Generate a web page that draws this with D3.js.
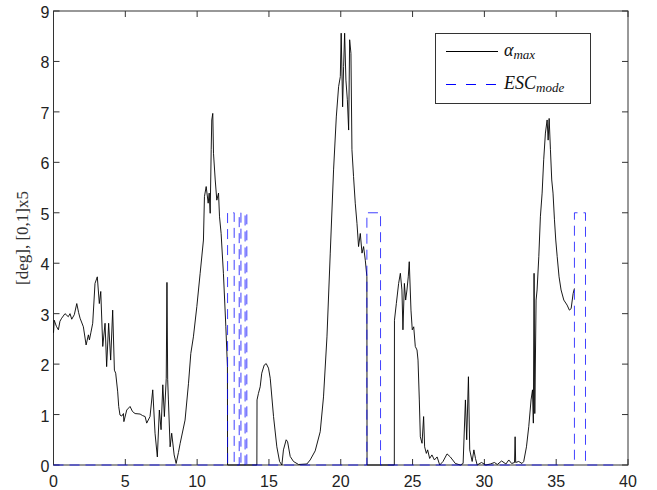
<!DOCTYPE html>
<html>
<head>
<meta charset="utf-8">
<script src="https://cdn.jsdelivr.net/npm/d3@7"></script>
<style>
  body { margin: 0; background: #fff; }
  svg { display: block; }
</style>
</head>
<body>
<div id="chart"></div>
<script>
// alpha_max trace, [time, deg]
const alphaMax = [
  [0.0, 2.62], [0.05, 2.87], [0.2, 2.75], [0.34, 2.68], [0.45, 2.85], [0.57, 2.91], [0.8, 3.0],
  [1.03, 2.94], [1.15, 3.0], [1.27, 2.89], [1.45, 2.98], [1.62, 3.2], [1.75, 3.02], [1.85, 2.91],
  [2.08, 2.74], [2.27, 2.38], [2.43, 2.58], [2.5, 2.48], [2.6, 2.62], [2.73, 2.81], [2.89, 3.6],
  [3.05, 3.73], [3.19, 3.2], [3.29, 3.44], [3.43, 2.35], [3.59, 2.81], [3.7, 1.95], [3.84, 2.81],
  [3.98, 2.08], [4.12, 3.07], [4.24, 1.88], [4.33, 1.82], [4.47, 1.45], [4.54, 1.16], [4.63, 0.99],
  [4.75, 0.97], [4.87, 1.02], [4.9, 0.86], [5.1, 1.09], [5.33, 1.16], [5.5, 1.06], [5.68, 1.02],
  [6.03, 1.01], [6.2, 0.98], [6.38, 0.96], [6.49, 0.83], [6.72, 0.96], [6.91, 1.49], [7.07, 0.63],
  [7.23, 0.16], [7.37, 1.09], [7.49, 0.7], [7.61, 1.59], [7.72, 0.96], [7.85, 1.72], [7.9, 3.62],
  [7.95, 1.7], [8.0, 1.29], [8.12, 0.36], [8.23, 0.63], [8.4, 0.2], [8.54, 0.03], [8.7, 0.25],
  [8.82, 0.43], [9.16, 0.89], [9.4, 1.62], [9.56, 2.21], [9.74, 2.54], [9.98, 3.14], [10.21, 3.8],
  [10.44, 4.46], [10.51, 5.32], [10.63, 5.52], [10.77, 5.19], [10.84, 5.39], [10.91, 4.99],
  [10.98, 6.25], [11.02, 6.84], [11.09, 6.97], [11.14, 6.18], [11.26, 5.65], [11.37, 5.25],
  [11.49, 5.39], [11.56, 4.92], [11.67, 4.59], [11.83, 3.8], [12.0, 2.74], [12.11, 1.95],
  [12.12, 0], [14.16, 0], [14.17, 1.29], [14.27, 1.42], [14.39, 1.55], [14.5, 1.82], [14.67, 1.98],
  [14.81, 2.01], [14.97, 1.92], [15.09, 1.72], [15.32, 0.96], [15.55, 0.36], [15.74, 0.07],
  [15.9, 0.0], [16.01, 0.3], [16.2, 0.5], [16.3, 0.46], [16.48, 0.17], [16.71, 0.07], [17.06, 0.01],
  [17.64, 0.02], [17.87, 0.1], [18.22, 0.28], [18.57, 0.66], [18.8, 1.35], [19.04, 2.54],
  [19.27, 4.2], [19.5, 5.85], [19.69, 6.9], [19.85, 7.5], [19.97, 7.7], [20.03, 8.56], [20.13, 7.1],
  [20.2, 7.9], [20.27, 8.56], [20.36, 7.63], [20.46, 7.24], [20.55, 6.64], [20.62, 8.43],
  [20.71, 8.16], [20.78, 6.25], [20.89, 5.72], [21.01, 5.19], [21.13, 4.79], [21.24, 4.33],
  [21.36, 4.59], [21.48, 4.2], [21.59, 4.33], [21.71, 4.06], [21.82, 3.73], [21.83, 0],
  [23.73, 0], [23.74, 2.87], [23.87, 3.2], [24.03, 3.6], [24.15, 3.8], [24.26, 3.47], [24.33, 2.68],
  [24.43, 3.6], [24.52, 3.27], [24.61, 3.47], [24.7, 3.73], [24.77, 4.03], [24.89, 3.07],
  [24.98, 2.68], [25.08, 2.74], [25.19, 2.35], [25.31, 2.28], [25.38, 2.08], [25.47, 1.29],
  [25.54, 0.56], [25.66, 0.43], [25.77, 0.96], [25.84, 0.36], [25.96, 0.23], [26.05, 0.3],
  [26.19, 0.13], [26.35, 0.2], [26.52, 0.1], [26.71, 0.16], [26.89, 0.0], [27.12, 0.07],
  [27.4, 0.22], [27.63, 0.16], [27.98, 0.03], [28.33, 0.0], [28.52, 0.03], [28.68, 1.29],
  [28.77, 0.5], [28.89, 1.75], [28.98, 0.3], [29.15, 0.07], [29.27, 0.3], [29.38, 0.13],
  [29.5, 0.0], [29.8, 0.05], [30.1, 0.0], [30.42, 0.02], [30.7, 0.05], [30.9, 0.01], [31.2, 0.08],
  [31.5, 0.02], [31.7, 0.1], [31.9, 0.03], [32.1, 0.05], [32.14, 0.56], [32.18, 0.05], [32.39, 0.07],
  [32.62, 0.03], [32.74, 0.07], [32.93, 0.36], [33.09, 0.76], [33.25, 1.29], [33.35, 1.49],
  [33.41, 0.83], [33.46, 3.8], [33.51, 1.02], [33.6, 3.27], [33.67, 3.47], [33.79, 4.13],
  [33.9, 4.92], [34.02, 5.39], [34.13, 6.05], [34.25, 6.58], [34.37, 6.84], [34.44, 6.44],
  [34.51, 6.87], [34.6, 6.25], [34.69, 5.65], [34.78, 5.39], [34.88, 4.86], [34.97, 4.46],
  [35.07, 4.13], [35.2, 3.73], [35.34, 3.47], [35.53, 3.27], [35.76, 3.17], [35.92, 3.07],
  [36.04, 3.1], [36.18, 3.4], [36.27, 3.5]
]

// ESC mode flag (scaled x5), step vertices
const escMode = [
  [0, 0], [12.12, 0], [12.12, 5], [12.58, 5], [12.58, 0], [12.93, 0], [12.93, 5], [13.05, 5],
  [13.05, 0], [13.34, 0], [13.34, 5], [13.46, 5], [13.46, 0], [21.82, 0], [21.82, 5], [22.77, 5],
  [22.77, 0], [36.27, 0], [36.27, 5], [37.04, 5], [37.04, 0], [39.4, 0]
]

const xTicks = [0, 5, 10, 15, 20, 25, 30, 35, 40]
const yTicks = [0, 1, 2, 3, 4, 5, 6, 7, 8, 9]
const yLabel = "[deg], [0,1]x5"

const width = 657, height = 490
const margin = { top: 11, right: 29, bottom: 25, left: 53.5 }
const x = d3.scaleLinear().domain([0, 40]).range([margin.left, width - margin.right])
const y = d3.scaleLinear().domain([0, 9]).range([height - margin.bottom, margin.top])

const svg = d3.select("#chart").append("svg")
  .attr("width", width)
  .attr("height", height)

svg.append("rect")
  .attr("width", width).attr("height", height).attr("fill", "#fff")

const tickLen = 6
const axisColor = "#333"

// frame
svg.append("rect")
  .attr("x", x(0)).attr("y", y(9))
  .attr("width", x(40) - x(0)).attr("height", y(0) - y(9))
  .attr("fill", "none").attr("stroke", axisColor).attr("stroke-width", 1)

// inward ticks on all four sides
const g = svg.append("g").attr("stroke", axisColor).attr("stroke-width", 1)
xTicks.forEach(t => {
  g.append("line").attr("x1", x(t)).attr("x2", x(t)).attr("y1", y(0)).attr("y2", y(0) - tickLen)
  g.append("line").attr("x1", x(t)).attr("x2", x(t)).attr("y1", y(9)).attr("y2", y(9) + tickLen)
})
yTicks.forEach(t => {
  g.append("line").attr("x1", x(0)).attr("x2", x(0) + tickLen).attr("y1", y(t)).attr("y2", y(t))
  g.append("line").attr("x1", x(40)).attr("x2", x(40) - tickLen).attr("y1", y(t)).attr("y2", y(t))
})

svg.append("g").selectAll("text")
  .data(xTicks)
  .enter().append("text")
  .attr("x", d => x(d))
  .attr("y", y(0) + 22)
  .attr("text-anchor", "middle")
  .style("font-family", "'Liberation Sans', Arial, sans-serif")
  .style("font-size", "16px")
  .attr("fill", "#222")
  .text(d => d)

svg.append("g").selectAll("text")
  .data(yTicks)
  .enter().append("text")
  .attr("x", x(0) - 4)
  .attr("y", d => y(d) + 7)
  .attr("text-anchor", "end")
  .style("font-family", "'Liberation Sans', Arial, sans-serif")
  .style("font-size", "16px")
  .attr("fill", "#222")
  .text(d => d)

svg.append("text")
  .attr("transform", "translate(28," + ((y(0) + y(9)) / 2) + ")rotate(-90)")
  .attr("text-anchor", "middle")
  .style("font-family", "'Liberation Serif', 'Times New Roman', serif")
  .style("font-size", "17px")
  .attr("fill", "#333")
  .text(yLabel)

const line = d3.line().x(d => x(d[0])).y(d => y(d[1]))

svg.append("path")
  .datum(alphaMax)
  .attr("d", line)
  .attr("fill", "none")
  .attr("stroke", "#000")
  .attr("stroke-width", 0.9)
  .attr("stroke-linejoin", "round")

svg.append("path")
  .datum(escMode)
  .attr("d", line)
  .attr("fill", "none")
  .attr("stroke", "#0000ff")
  .attr("stroke-opacity", 0.75)
  .attr("stroke-width", 1)
  .attr("stroke-dasharray", "10,6")

// legend
const lg = svg.append("g")
lg.append("rect")
  .attr("x", 435.5).attr("y", 33.5).attr("width", 155).attr("height", 70)
  .attr("fill", "#fff").attr("stroke", axisColor).attr("stroke-width", 1)
lg.append("line")
  .attr("x1", 446).attr("x2", 498).attr("y1", 51.5).attr("y2", 51.5)
  .attr("stroke", "#000").attr("stroke-width", 1)
lg.append("line")
  .attr("x1", 446).attr("x2", 498).attr("y1", 84.5).attr("y2", 84.5)
  .attr("stroke", "#0000ff").attr("stroke-width", 1).attr("stroke-dasharray", "10,10")

const t1 = lg.append("text")
  .attr("x", 504).attr("y", 55.5)
  .style("font-family", "'Liberation Serif', 'Times New Roman', serif")
  .style("font-style", "italic")
  .attr("fill", "#111")
t1.append("tspan").style("font-size", "18px").text("α")
t1.append("tspan").attr("dy", 3).style("font-size", "13px").text("max")

const t2 = lg.append("text")
  .attr("x", 504).attr("y", 89)
  .style("font-family", "'Liberation Serif', 'Times New Roman', serif")
  .style("font-style", "italic")
  .attr("fill", "#111")
t2.append("tspan").style("font-size", "18px").text("ESC")
t2.append("tspan").attr("dy", 3).style("font-size", "13px").text("mode")
</script>
</body>
</html>
